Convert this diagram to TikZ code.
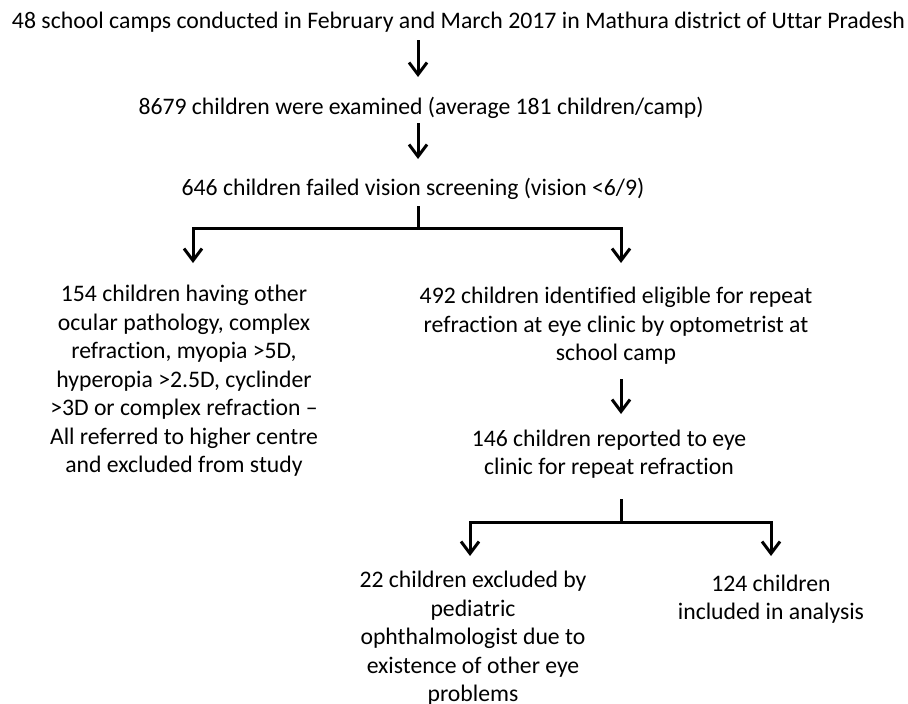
\documentclass[tikz,border=0pt]{standalone}
\usepackage{graphicx}
\usepackage{fontspec}
\setmainfont{Carlito}[Ligatures={NoCommon}]
\usetikzlibrary{arrows.meta}
\begin{document}
\begin{tikzpicture}[x=1pt,y=-1pt,
  lbl/.style={inner sep=0pt, anchor=base, align=center, font=\fontsize{23.7}{28.5}\selectfont, text=black},
  conn/.style={line width=3pt, draw=black},
  arr/.style={conn, -{Straight Barb[length=12pt,width=18pt]}}]
\useasboundingbox (0,0) rectangle (908,704);
% texts (base anchor = baseline of last line)
\node[lbl] (t1) at (458.5,28) {\resizebox{893pt}{\height}{48 school camps conducted in February and March 2017 in Mathura district of Uttar Pradesh}};
\node[lbl] (t2) at (421,114.5) {8679 children were examined (average 181 children/camp)};
\node[lbl] (t3) at (413,195.5) {646 children failed vision screening (vision <6/9)};
\node[lbl] (l1) at (184,472.5) {154 children having other\\ocular pathology, complex\\refraction, myopia >5D,\\hyperopia >2.5D, cyclinder\\>3D or complex refraction –\\All referred to higher centre\\and excluded from study};
\node[lbl] (r1) at (616,360.5) {492 children identified eligible for repeat\\refraction at eye clinic by optometrist at\\school camp};
\node[lbl] (r2) at (609,474.5) {146 children reported to eye\\clinic for repeat refraction};
\node[lbl] (b1) at (473,701.5) {22 children excluded by\\pediatric\\ophthalmologist due to\\existence of other eye\\problems};
\node[lbl] (b2) at (771,619.5) {124 children\\included in analysis};
% connector points
\coordinate (a1s) at (418,40);
\coordinate (a1e) at (418,77);
\coordinate (a2s) at (418,123);
\coordinate (a2e) at (418,159);
\coordinate (s1t) at (418,206);
\coordinate (s1j) at (418,228);
\coordinate (s1l) at (193,263);
\coordinate (s1r) at (621,263);
\coordinate (a3s) at (621,379);
\coordinate (a3e) at (621,414);
\coordinate (s2t) at (621,499);
\coordinate (s2j) at (621,522);
\coordinate (s2l) at (470,556);
\coordinate (s2r) at (771,556);
% connectors
\draw[arr] (a1s) -- (a1e);
\draw[arr] (a2s) -- (a2e);
\draw[conn] (s1t) -- (s1j);
\draw[arr] (s1j) -| (s1l);
\draw[arr] (s1j) -| (s1r);
\draw[arr] (a3s) -- (a3e);
\draw[conn] (s2t) -- (s2j);
\draw[arr] (s2j) -| (s2l);
\draw[arr] (s2j) -| (s2r);
\end{tikzpicture}
\end{document}
